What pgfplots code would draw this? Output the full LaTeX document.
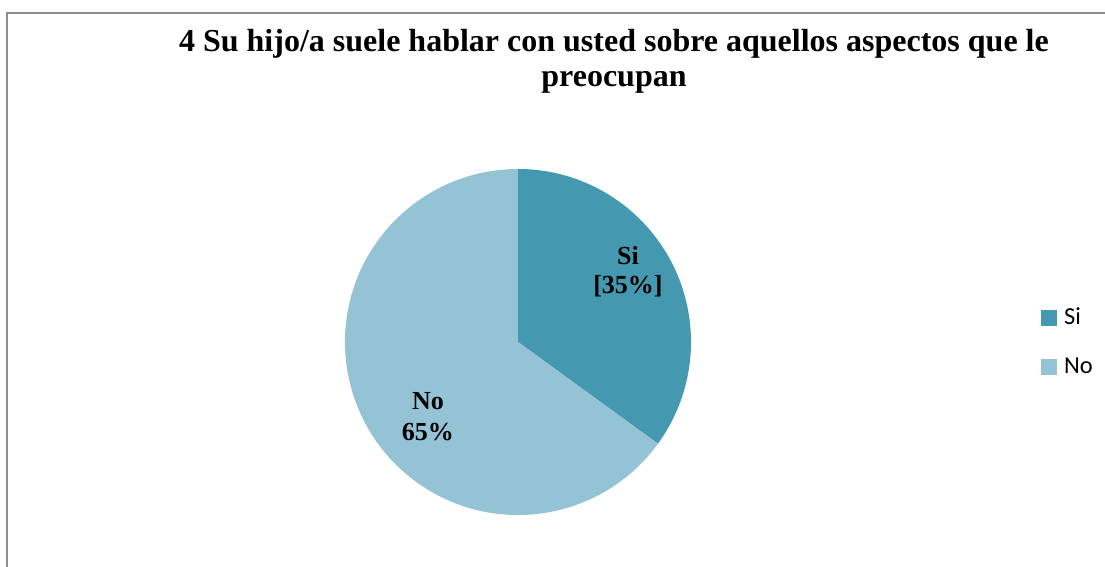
\documentclass[border=0pt]{standalone}
\usepackage{fontspec}
\setmainfont{Liberation Serif}
\newfontfamily\legendfont{Carlito}
\usepackage{pgfplots}
\usepackage{pgfplotstable}
\pgfplotsset{compat=1.18}

\definecolor{siblue}{HTML}{4499B0}
\definecolor{noblue}{HTML}{94C3D5}
\definecolor{framegray}{HTML}{8E8E8E}

% share of answers (percent)
\pgfplotstableread{
label value
Si    35
No    65
}\slices

\begin{document}
\begin{tikzpicture}
\useasboundingbox (0,0) rectangle (552.5bp,283.5bp);
\pgfplotstablegetelem{0}{value}\of\slices
\pgfmathsetmacro\siend{90-360*\pgfplotsretval/100}
\begin{axis}[
  x=0.5bp, y=0.5bp,
  xmin=0, xmax=1105, ymin=0, ymax=567,
  hide axis, clip=false,
  anchor=south west, at={(0,0)},
  legend style={draw=none, fill=none, inner sep=0pt,
    at={(axis cs:1041,225)}, anchor=west,
    nodes={inner sep=0pt, font=\fontsize{12.2bp}{14bp}\legendfont},
    row sep=15bp, column sep=3.5bp},
  legend cell align=left,
]
  % frame
  \draw[framegray, line width=1bp] (axis cs:7,-30) -- (axis cs:7,554) -- (axis cs:1130,554);

  % slices
  \fill[siblue] (axis cs:518,225) -- ++(90:86.5bp)
    arc[start angle=90, end angle=\siend, radius=86.5bp] -- cycle;
  \fill[noblue] (axis cs:518,225) -- ++(\siend:86.5bp)
    arc[start angle=\siend, end angle=-270, radius=86.5bp] -- cycle;

  % data labels
  \node[font=\fontsize{13bp}{14.5bp}\selectfont\bfseries, align=center]
    at (axis cs:628,295) {Si\\{}[35\%]};
  \node[font=\fontsize{13bp}{15.5bp}\selectfont\bfseries, align=center]
    at (axis cs:428,150) {No\\65\%};

  % title
  \node[font=\fontsize{16bp}{17.5bp}\selectfont\bfseries, align=center]
    at (axis cs:614,506)
    {4 Su hijo/a suele hablar con usted sobre aquellos aspectos que le\\preocupan};

  \addlegendimage{legend image code/.code={\fill[siblue] (0bp,-3.75bp) rectangle (7.5bp,3.75bp);}}
  \addlegendentry{Si}
  \addlegendimage{legend image code/.code={\fill[noblue] (0bp,-3.75bp) rectangle (7.5bp,3.75bp);}}
  \addlegendentry{No}
\end{axis}
\end{tikzpicture}
\end{document}
